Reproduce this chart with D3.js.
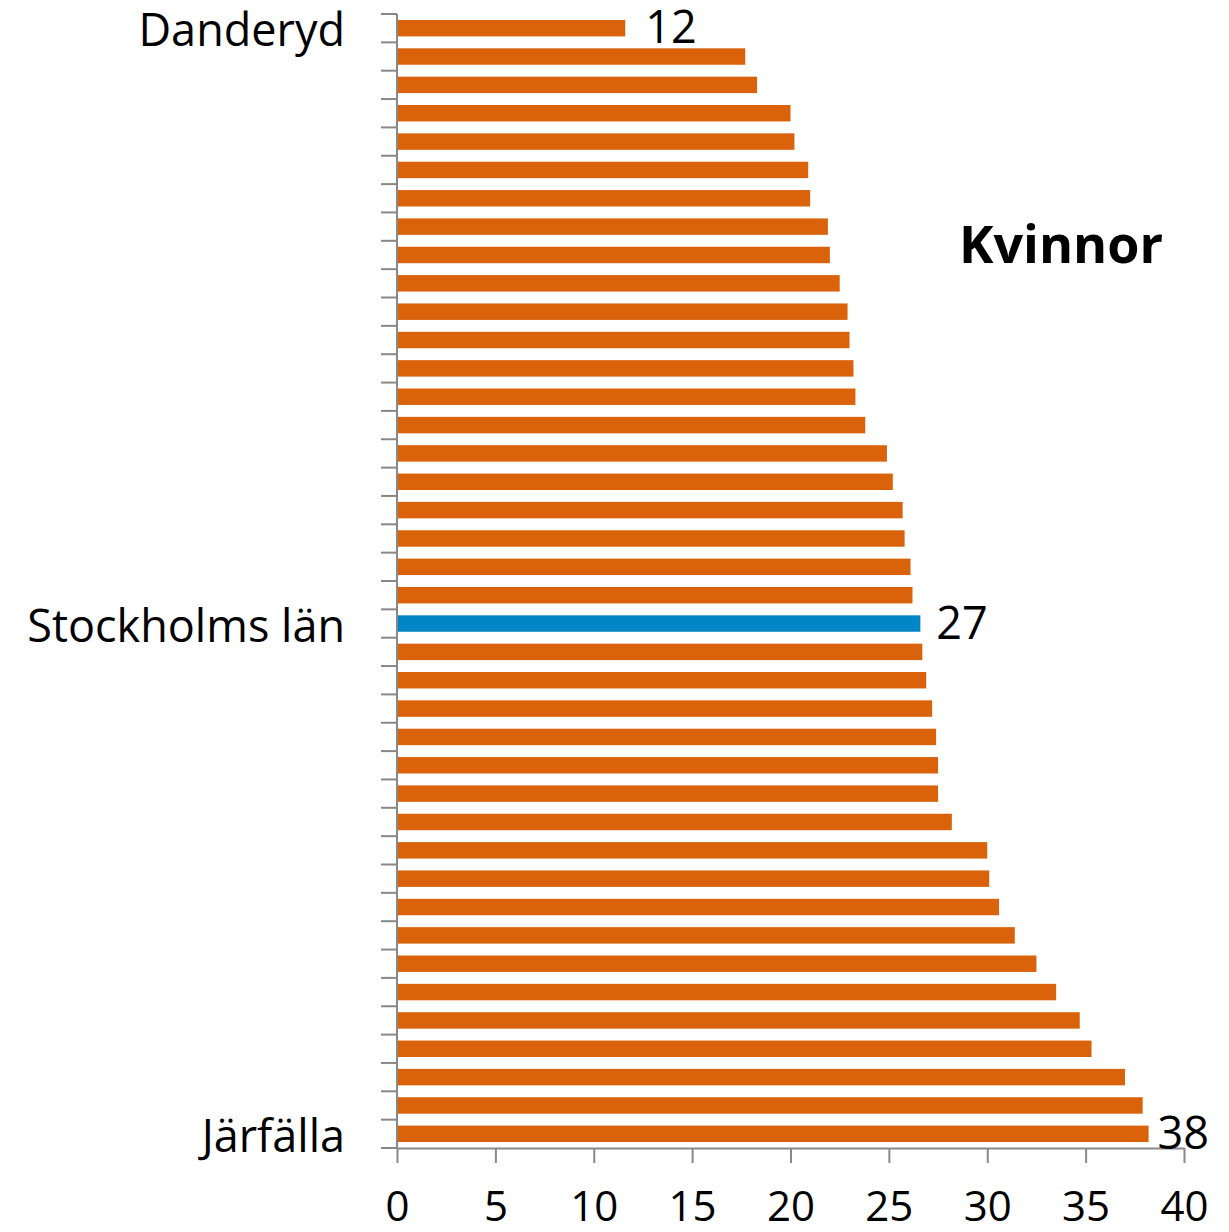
<!DOCTYPE html>
<html>
<head>
<meta charset="utf-8">
<script src="https://cdn.jsdelivr.net/npm/d3@7"></script>
<style>
  body { margin: 0; background: #fff; }
  svg text { font-family: "Open Sans", "Noto Sans", sans-serif; fill: #000; }
</style>
</head>
<body>
<svg id="drawing_region"></svg>
<script>
// 40 rows, only three are labelled in the original
var labels = ['Danderyd'].concat(d3.range(20).map(() => ''), ['Stockholms län'], d3.range(17).map(() => ''), ['Järfälla']);
var values = [11.6, 17.7, 18.3, 20.0, 20.2, 20.9, 21.0, 21.9, 22.0, 22.5,
              22.9, 23.0, 23.2, 23.3, 23.8, 24.9, 25.2, 25.7, 25.8, 26.1,
              26.2, 26.6, 26.7, 26.9, 27.2, 27.4, 27.5, 27.5, 28.2, 30.0,
              30.1, 30.6, 31.4, 32.5, 33.5, 34.7, 35.3, 37.0, 37.9, 38.2];
var valueLabels = {0: '12', 21: '27', 39: '38'};
var xticks = [0, 5, 10, 15, 20, 25, 30, 35, 40];
var highlight = 21;
var title = 'Kvinnor';

var config = {
    width: 1229,
    height: 1232,
    margin: {top: 14, right: 45, bottom: 84, left: 397}
};

var svg = d3.select('#drawing_region')
    .attr('width', config.width)
    .attr('height', config.height);

var chart = svg.append('g')
    .attr('transform', `translate(${config.margin.left}, ${config.margin.top})`);

var inner_width = config.width - config.margin.left - config.margin.right;
var inner_height = config.height - config.margin.top - config.margin.bottom;

var xscale = d3.scaleLinear()
    .domain([0, 40])
    .range([0, inner_width]);

var yscale = d3.scaleBand()
    .domain(d3.range(values.length))
    .range([0, inner_height])
    .paddingInner(0.42)
    .paddingOuter(0.21);

chart.selectAll('rect')
    .data(values)
    .enter()
    .append('rect')
    .attr('x', 0)
    .attr('y', (d, i) => yscale(i))
    .attr('width', d => xscale(d))
    .attr('height', yscale.bandwidth())
    .attr('fill', (d, i) => i == highlight ? '#0085C6' : '#D9620B');

// y axis: ticks between categories
var step = inner_height / values.length;
var yaxis = chart.append('g');
yaxis.append('line')
    .attr('x1', 0).attr('x2', 0)
    .attr('y1', 0).attr('y2', inner_height)
    .attr('stroke', '#888').attr('stroke-width', 2);
yaxis.selectAll('.ytick')
    .data(d3.range(values.length + 1))
    .enter()
    .append('line')
    .attr('x1', -16).attr('x2', 0)
    .attr('y1', i => i * step).attr('y2', i => i * step)
    .attr('stroke', '#888').attr('stroke-width', 2);

yaxis.selectAll('.ylabel')
    .data(labels)
    .enter()
    .append('text')
    .attr('x', -52)
    .attr('y', (d, i) => yscale(i) + yscale.bandwidth() / 2)
    .attr('dy', '0.4em')
    .attr('text-anchor', 'end')
    .style('font-size', '45px')
    .text(d => d);

// x axis
var xaxis = d3.axisBottom(xscale)
    .tickValues(xticks)
    .tickSize(15)
    .tickSizeOuter(0);

var xaxis_group = chart.append('g')
    .attr('transform', `translate(0, ${inner_height})`)
    .call(xaxis);
xaxis_group.select('.domain').attr('stroke', '#888').attr('stroke-width', 2);
xaxis_group.selectAll('.tick line').attr('stroke', '#888').attr('stroke-width', 2);
xaxis_group.selectAll('.tick text')
    .attr('y', 73)
    .attr('dy', 0)
    .style('font-size', '42px')
    .style('font-family', '"Open Sans", sans-serif')
    .attr('fill', '#000');

// value labels
var valueDx = {0: 20, 21: 16, 39: 9};
chart.selectAll('.vlabel')
    .data(Object.keys(valueLabels))
    .enter()
    .append('text')
    .attr('x', k => xscale(values[k]) + valueDx[k])
    .attr('y', k => yscale(+k) + yscale.bandwidth() / 2)
    .attr('dy', '0.34em')
    .style('font-size', '45px')
    .text(k => valueLabels[k]);

svg.append('text')
    .attr('x', 1061)
    .attr('y', 263)
    .attr('text-anchor', 'middle')
    .style('font-size', '52px')
    .style('font-weight', 'bold')
    .text(title);
</script>
</body>
</html>
